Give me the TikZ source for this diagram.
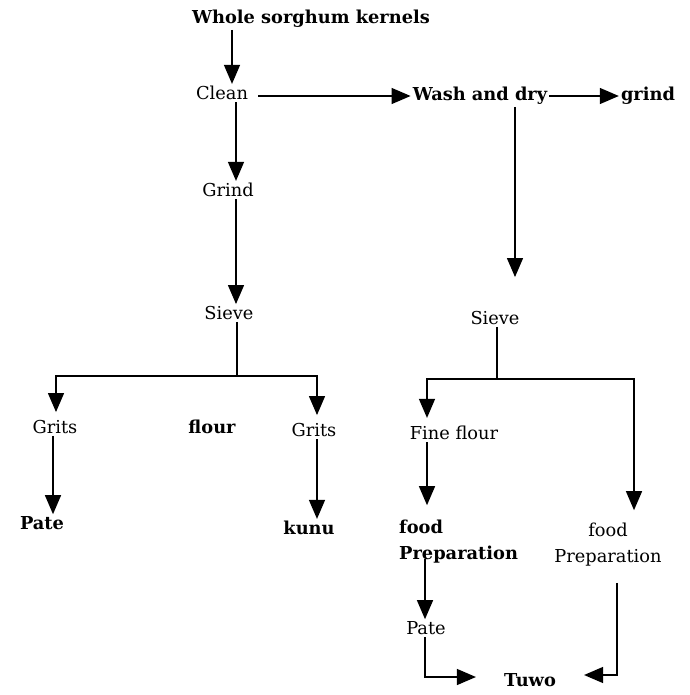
\documentclass[tikz,border=0pt]{standalone}
\usepackage{fontspec}
\setmainfont{DejaVu Serif}
\usetikzlibrary{arrows.meta}

\begin{document}
\begin{tikzpicture}[x=1pt,y=-1pt,
    lbl/.style={inner sep=2pt, font=\fontsize{17.8}{26}\selectfont},
    blbl/.style={lbl, font=\fontsize{17.8}{26}\selectfont\bfseries},
    flow/.style={line width=1.3pt, black},
    arr/.style={flow, -{Triangle[length=19pt,width=16pt]}}]

    % Define arrow columns
    \def\colA{232} % whole -> clean
    \def\colB{236} % clean -> grind -> sieve
    \def\colW{515} % wash and dry -> sieve
    \def\colF{427} % fine flour column
    \def\colR{617} % right food preparation column

    % fix the page size
    \useasboundingbox (0,0) rectangle (689,695);

    % --- Top row ---
    \node[blbl] (whole) at (311,19) {Whole sorghum kernels};
    \node[lbl] (clean) at (222,93) {Clean};
    \node[blbl] (wash) at (480,96) {Wash and dry};
    \node[blbl] (grindr) at (648,96) {grind};

    % --- Left branch ---
    \node[lbl] (grind) at (228,190) {Grind};
    \node[lbl] (sieveL) at (229,313) {Sieve};
    \node[lbl] (gritsL) at (55,427) {Grits};
    \node[blbl] (flour) at (212,427) {flour};
    \node[lbl] (gritsR) at (314,430) {Grits};
    \node[blbl] (pateL) at (42,523) {Pate};
    \node[blbl] (kunu) at (309,528) {kunu};

    % --- Right branch ---
    \node[lbl] (sieveR) at (495,318) {Sieve};
    \node[lbl] (fine) at (454,433) {Fine flour};
    \node[blbl, anchor=west, align=left] (prepL) at (397,542) {food\\Preparation};
    \node[lbl, align=center] (prepR) at (608,545) {food\\Preparation};
    \node[lbl] (pateR) at (426,628) {Pate};
    \node[blbl] (tuwo) at (530,680) {Tuwo};

    % split points under the sieves
    \coordinate (jL) at (237,376);
    \coordinate (jR) at (497,379);

    % --- Connectors, top ---
    \draw[arr] (whole.south -| \colA,0) -- (clean.north -| \colA,0);
    \draw[arr, shorten <=8pt] (clean.east |- wash.west) -- (wash.west);
    \draw[arr] (wash.east) -- (grindr.west);

    % --- Connectors, left ---
    \draw[arr] (clean.south -| \colB,0) -- (grind.north -| \colB,0);
    \draw[arr] (grind.south -| \colB,0) -- (sieveL.north -| \colB,0);
    \draw[flow] (sieveL.south -| jL) -- (jL);
    \draw[arr, shorten >=6pt] (jL) -| ([xshift=1pt]gritsL.north);
    \draw[arr, shorten >=6pt] (jL) -| ([xshift=3pt]gritsR.north);
    \draw[arr] ([xshift=-2pt]gritsL.south) -- ([xshift=-2pt]gritsL.south |- pateL.north);
    \draw[arr] ([xshift=3pt]gritsR.south) -- ([xshift=3pt]gritsR.south |- kunu.north);

    % --- Connectors, right ---
    \draw[arr, shorten >=32pt] (wash.south -| \colW,0) -- (sieveR.north -| \colW,0);
    \draw[flow] (sieveR.south -| jR) -- (jR);
    \draw[arr, shorten >=6pt] (jR) -| (fine.north -| \colF,0);
    \draw[arr, shorten >=11pt] (jR) -| ([xshift=26pt]prepR.north);
    \draw[arr, shorten >=13pt] (fine.south -| \colF,0) -- (prepL.north -| \colF,0);
    \draw[arr, shorten <=-7pt] (prepL.south -| 425,0) -- (pateR.north -| 425,0);
    \draw[arr, shorten >=26pt] (pateR.south -| 425,0) |- ([yshift=3pt]tuwo.west);
    \draw[arr, shorten >=26pt, shorten <=14pt] (prepR.south -| \colR,0) |- ([yshift=5pt]tuwo.east);

\end{tikzpicture}
\end{document}
